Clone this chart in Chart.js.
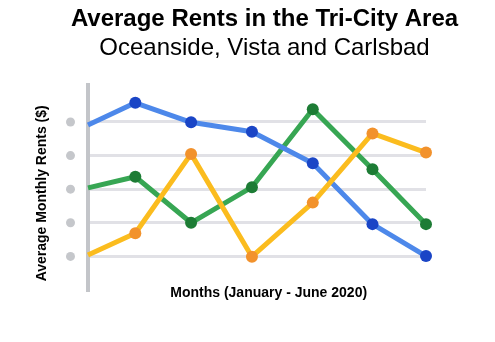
<!DOCTYPE html>
<html>
<head>
<meta charset="utf-8">
<script src="https://cdn.jsdelivr.net/npm/chart.js"></script>
<style>
  body { margin: 0; background: #fff; }
  #wrap { width: 495px; height: 342px; }
</style>
</head>
<body>
<div id="wrap"><canvas id="rents" width="495" height="342"></canvas></div>
<script>
// x positions of the points (0 = start of axis, 6 = end), as drawn in the picture
const monthPos = [0, 0.84, 1.83, 2.91, 3.99, 5.05, 6];

// relative rent levels (no tick labels on the original, gridlines at 1..5)
const blueRents   = [4.91, 5.57, 4.99, 4.71, 3.77, 1.96, 1.01];
const greenRents  = [3.04, 3.37, 2.00, 3.06, 5.38, 3.59, 1.96];
const orangeRents = [1.04, 1.69, 4.05, 0.99, 2.60, 4.66, 4.09];

const gridLevels = [1, 2, 3, 4, 5];

const FONT = "'Liberation Sans', Arial, Helvetica, sans-serif";

function toPoints(values) {
    return values.map((v, i) => ({ x: monthPos[i], y: v }));
}

// first point sits on the axis and has no marker
const markerSizes = monthPos.map((_, i) => i === 0 ? 0 : 6);

function series(label, values, lineColor, dotColor) {
    return {
        label: label,
        data: toPoints(values),
        borderColor: lineColor,
        backgroundColor: dotColor,
        pointBackgroundColor: dotColor,
        pointBorderWidth: 0,
        pointRadius: markerSizes,
        borderWidth: 5,
        borderJoinStyle: 'round',
        tension: 0,
        clip: false
    };
}

// grey dots left of the axis, one per gridline
const tickDots = {
    id: 'tickDots',
    beforeDatasetsDraw(chart) {
        const ctx = chart.ctx;
        const y = chart.scales.y;
        ctx.save();
        ctx.fillStyle = '#c5c7cb';
        y.ticks.forEach(t => {
            ctx.beginPath();
            ctx.arc(chart.chartArea.left - 17.5, y.getPixelForValue(t.value), 4.5, 0, Math.PI * 2);
            ctx.fill();
        });
        ctx.restore();
    }
};

new Chart(document.getElementById('rents'), {
    type: 'line',
    data: {
        datasets: [
            series('Carlsbad', orangeRents, '#fbbc1e', '#f2922c'),
            series('Oceanside', blueRents, '#4d88ea', '#1a45c6'),
            series('Vista', greenRents, '#37a653', '#1d7c35')
        ]
    },
    options: {
        responsive: false,
        animation: false,
        layout: { padding: { left: 34, right: 0, top: 0, bottom: 40.6 } },
        plugins: {
            legend: { display: false },
            tooltip: { enabled: false },
            title: {
                display: true,
                text: 'Average Rents in the Tri-City Area',
                color: '#000',
                font: { family: FONT, size: 24, weight: 'bold' },
                padding: { top: 5, bottom: 0 }
            },
            subtitle: {
                display: true,
                text: 'Oceanside, Vista and Carlsbad',
                color: '#000',
                font: { family: FONT, size: 24, weight: 'normal' },
                padding: { top: 0, bottom: 22.4 }
            }
        },
        scales: {
            x: {
                type: 'linear',
                min: 0,
                max: 6,
                grid: { display: false, drawTicks: false },
                border: { display: false },
                ticks: { display: false },
                title: {
                    display: true,
                    text: '      Months (January - June 2020)',
                    color: '#000',
                    font: { family: FONT, size: 14, weight: 'bold' },
                    padding: 0
                },
                afterFit(scale) { scale.height = 11.4; }
            },
            y: {
                min: 0,
                max: 6.1,
                afterBuildTicks(scale) {
                    scale.ticks = gridLevels.map(v => ({ value: v }));
                },
                grid: { color: '#e1e1e6', lineWidth: 3, drawTicks: false },
                border: { display: true, color: '#c3c5c9', width: 4 },
                ticks: { display: false },
                title: {
                    display: true,
                    text: 'Average Monthly Rents ($)   ',
                    color: '#000',
                    font: { family: FONT, size: 14, weight: 'bold' },
                    padding: 0
                },
                afterFit(scale) { scale.width = 54; }
            },
            // empty axis on the right that keeps the plot narrower than the titles
            side: {
                position: 'right',
                grid: { display: false, drawTicks: false },
                border: { display: false },
                ticks: { display: false },
                afterFit(scale) { scale.width = 69; }
            }
        }
    },
    plugins: [tickDots]
});
</script>
</body>
</html>
